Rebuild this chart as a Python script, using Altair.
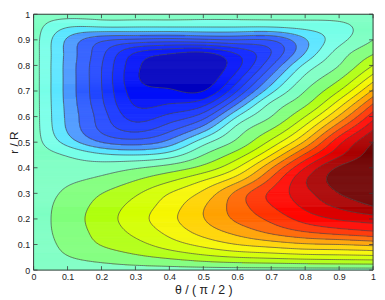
import numpy as np
import pandas as pd
import altair as alt

alt.data_transformers.disable_max_rows()

# ---- values (field at grid nodes) ----
theta_nodes = [0.0, 0.1, 0.2, 0.3, 0.4, 0.5, 0.6, 0.7, 0.8, 0.9, 1.0]
r_nodes = [0.0, 0.05, 0.1, 0.15, 0.2, 0.25, 0.3, 0.35, 0.4, 0.45, 0.5,
           0.55, 0.6, 0.65, 0.7, 0.75, 0.8, 0.85, 0.9, 0.95, 1.0]

# one list per theta column, values from r = 0 (bottom) to r = 1 (top)
psi_t00 = [0, 0, 0, 0, 0, 0, 0, 0, 0, 0, 0, 0, 0, 0, 0, 0, 0, 0, 0, 0, 0]
psi_t01 = [0, 0.45, 0.75, 0.92, 0.98, 0.90, 0.68, 0.32, -0.14, -0.60, -1.90,
           -2.60, -2.72, -2.80, -2.85, -2.85, -2.85, -2.80, -2.65, -1.45, 0]
psi_t02 = [0, 0.85, 1.55, 1.85, 2.00, 1.85, 1.48, 0.80, -0.02, -1.30, -3.50,
           -4.70, -5.00, -5.30, -5.45, -5.50, -5.45, -5.20, -4.25, -1.50, 0]
psi_t03 = [0, 1.26, 2.17, 2.75, 3.05, 2.85, 2.35, 1.50, 0.40, -1.50, -4.00,
           -5.80, -6.90, -7.60, -8.00, -8.30, -8.20, -7.50, -4.70, -1.50, 0]
psi_t04 = [0, 1.67, 3.00, 3.80, 4.20, 4.00, 3.50, 2.36, 0.93, -1.00, -3.10,
           -4.80, -6.20, -7.50, -8.35, -9.10, -9.25, -8.30, -4.90, -1.50, 0]
psi_t05 = [0, 2.14, 3.80, 4.90, 5.45, 5.40, 4.75, 3.50, 1.83, 0.50, -0.90,
           -2.90, -4.90, -6.85, -8.50, -9.20, -9.35, -8.60, -4.70, -1.50, 0]
psi_t06 = [0, 2.50, 4.50, 5.85, 6.70, 7.00, 6.80, 5.20, 3.50, 2.00, 0.75,
           -0.10, -1.50, -3.50, -5.50, -6.90, -7.80, -7.30, -4.50, -1.50, 0]
psi_t07 = [0, 2.70, 4.95, 6.75, 7.75, 8.45, 8.70, 7.80, 6.40, 4.50, 2.80,
           1.50, 0.50, -0.33, -1.80, -3.20, -4.60, -5.50, -4.40, -1.50, 0]
psi_t08 = [0, 2.90, 5.35, 7.50, 8.90, 9.70, 10.15, 10.40, 9.50, 7.70, 5.70,
           4.00, 2.50, 1.30, 0.50, -0.27, -1.25, -2.50, -2.60, -1.20, 0]
psi_t09 = [0, 3.00, 5.50, 8.00, 9.60, 10.70, 11.50, 11.90, 11.65, 10.30, 9.20,
           7.50, 5.65, 4.00, 2.50, 1.35, 0.50, -0.09, -0.85, -0.80, 0]
psi_t10 = [0, 3.10, 5.76, 8.40, 10.00, 11.50, 12.10, 12.40, 12.30, 12.00, 11.50,
           10.45, 9.10, 7.50, 5.70, 4.00, 2.50, 1.35, 0.50, 0.10, 0]

# contour levels and the colour of each band between them
levels = [-8.5, -7.5, -6.5, -5.5, -4.5, -3.5, -2.5, -1.5, -0.5, 0.5, 1.5,
          2.5, 3.5, 4.5, 5.5, 6.5, 7.5, 8.5, 9.5, 10.5, 11.5]
band_colors = ["#0000c0", "#0010f8", "#0a22ff", "#1636ff", "#2248ff", "#2e5cff",
               "#4a98ff", "#5ae6ff", "#78ffe8", "#7effc4", "#80ff7c", "#b0ff10",
               "#d4ff00", "#f6f600", "#ffd400", "#ffa200", "#ff6600", "#ff3400",
               "#ff0800", "#dc0000", "#a80000", "#700000"]

x_ticks = [0, 0.1, 0.2, 0.3, 0.4, 0.5, 0.6, 0.7, 0.8, 0.9, 1]
y_ticks = [0, 0.1, 0.2, 0.3, 0.4, 0.5, 0.6, 0.7, 0.8, 0.9, 1]

# ---- smooth surface through the nodes (cubic spline, as contourf does) ----
def spline_matrix(nodes, out):
    nodes = np.asarray(nodes, float)
    out = np.asarray(out, float)
    n = len(nodes)
    h = np.diff(nodes)
    A = np.zeros((n, n))
    B = np.zeros((n, n))
    A[0, 0] = A[-1, -1] = 1.0
    for i in range(1, n - 1):
        A[i, i - 1] = h[i - 1] / 6
        A[i, i] = (h[i - 1] + h[i]) / 3
        A[i, i + 1] = h[i] / 6
        B[i, i - 1] = 1 / h[i - 1]
        B[i, i] = -1 / h[i - 1] - 1 / h[i]
        B[i, i + 1] = 1 / h[i]
    M = np.linalg.solve(A, B)
    idx = np.clip(np.searchsorted(nodes, out, side="right") - 1, 0, n - 2)
    hh = h[idx]
    t = (out - nodes[idx]) / hh
    S = np.zeros((len(out), n))
    rows = np.arange(len(out))
    S[rows, idx] += 1 - t
    S[rows, idx + 1] += t
    c0 = ((1 - t) ** 3 - (1 - t)) * hh ** 2 / 6
    c1 = (t ** 3 - t) * hh ** 2 / 6
    S += c0[:, None] * M[idx] + c1[:, None] * M[idx + 1]
    return S

G = np.array([psi_t00, psi_t01, psi_t02, psi_t03, psi_t04, psi_t05,
              psi_t06, psi_t07, psi_t08, psi_t09, psi_t10], float).T

def field(th_out, r_out):
    return spline_matrix(r_nodes, r_out) @ G @ spline_matrix(theta_nodes, th_out).T

W, H = 345, 260

# filled bands: run-length rectangles per pixel row
NX, NY = W, H
tc = (np.arange(NX) + 0.5) / NX
rc = (np.arange(NY) + 0.5) / NY
F = field(tc, rc)
lev = np.array(levels)
rows = []
for j in range(NY):
    b = np.digitize(F[j], lev)
    starts = np.r_[0, np.nonzero(np.diff(b))[0] + 1]
    ends = np.r_[starts[1:], NX]
    for s, e in zip(starts, ends):
        rows.append((round(s / NX, 5), round(e / NX, 5), round(j / NY, 5),
                     round((j + 1) / NY, 5), round(float(F[j, s:e].mean()), 3)))
df_fill = pd.DataFrame(rows, columns=["t0", "t1", "r0", "r1", "psi"])

# contour lines: marching squares on a grid of nodes
CX, CY = 174, 131
xs_ = np.linspace(0, 1, CX)
ys_ = np.linspace(0, 1, CY)
V = field(xs_, ys_)

def segments(V, xs, ys, level):
    A = V - level
    pos = A > 0
    out = []
    with np.errstate(divide="ignore", invalid="ignore"):
        he = pos[:, :-1] != pos[:, 1:]
        th = A[:, :-1] / (A[:, :-1] - A[:, 1:])
        hx = xs[:-1][None, :] + th * np.diff(xs)[None, :]
        ve = pos[:-1, :] != pos[1:, :]
        tv = A[:-1, :] / (A[:-1, :] - A[1:, :])
        vy = ys[:-1][:, None] + tv * np.diff(ys)[:, None]
    cells = he[:-1, :].astype(int) + he[1:, :] + ve[:, :-1] + ve[:, 1:]
    js, is_ = np.nonzero(cells)
    for j, i in zip(js, is_):
        pts = []
        if he[j, i]:
            pts.append((hx[j, i], ys[j]))
        if ve[j, i + 1]:
            pts.append((xs[i + 1], vy[j, i + 1]))
        if he[j + 1, i]:
            pts.append((hx[j + 1, i], ys[j + 1]))
        if ve[j, i]:
            pts.append((xs[i], vy[j, i]))
        if len(pts) == 2:
            out.append(pts[0] + pts[1])
        elif len(pts) == 4:
            out.append(pts[0] + pts[1])
            out.append(pts[2] + pts[3])
    return out

segs = []
for L in levels:
    segs.extend(segments(V, xs_, ys_, L))
df_seg = pd.DataFrame(np.round(np.array(segs, float), 5), columns=["x", "y", "x2", "y2"])
df_xt = pd.DataFrame({"t": x_ticks})
df_yt = pd.DataFrame({"t": y_ticks})

# ---- chart ----
frame_col = "#3a3a3a"
xsc = alt.Scale(domain=[0, 1], nice=False, zero=False)
ysc = alt.Scale(domain=[0, 1], nice=False, zero=False)
xaxis = alt.Axis(title="θ / ( π / 2 )", values=x_ticks, format="~g", tickSize=0,
                 domain=False, grid=False, labelPadding=3, titlePadding=2,
                 labelFlush=False, labelOverlap=False)
yaxis = alt.Axis(title="r / R", values=y_ticks, format="~g", tickSize=0,
                 domain=False, grid=False, labelPadding=4,
                 titleX=-20.5, titleY=H / 2, titleAngle=270, titleFontSize=12,
                 titleAlign="center", titleBaseline="middle",
                 labelFlush=False, labelOverlap=False)
cscale = alt.Scale(type="threshold", domain=levels, range=band_colors)

fill = alt.Chart(df_fill).mark_rect(strokeWidth=0.5).encode(
    x=alt.X("t0:Q", scale=xsc, axis=xaxis), x2="t1:Q",
    y=alt.Y("r0:Q", scale=ysc, axis=yaxis), y2="r1:Q",
    color=alt.Color("psi:Q", scale=cscale, legend=None),
    stroke=alt.Stroke("psi:Q", scale=cscale, legend=None),
)

lines = alt.Chart(df_seg).mark_rule(color="#4a4a4a", strokeWidth=0.8, opacity=0.85).encode(
    x=alt.X("x:Q", scale=xsc, axis=xaxis), x2="x2:Q",
    y=alt.Y("y:Q", scale=ysc, axis=yaxis), y2="y2:Q",
)

tick_b = alt.Chart(df_xt).mark_rule(color=frame_col, strokeWidth=0.8).encode(
    x=alt.X("t:Q", scale=xsc, axis=xaxis), y=alt.value(H), y2=alt.value(H - 4))
tick_t = alt.Chart(df_xt).mark_rule(color=frame_col, strokeWidth=0.8).encode(
    x=alt.X("t:Q", scale=xsc, axis=xaxis), y=alt.value(0), y2=alt.value(4))
tick_l = alt.Chart(df_yt).mark_rule(color=frame_col, strokeWidth=0.8).encode(
    y=alt.Y("t:Q", scale=ysc, axis=yaxis), x=alt.value(0), x2=alt.value(4))
tick_r = alt.Chart(df_yt).mark_rule(color=frame_col, strokeWidth=0.8).encode(
    y=alt.Y("t:Q", scale=ysc, axis=yaxis), x=alt.value(W), x2=alt.value(W - 4))

frame = alt.Chart(pd.DataFrame({"a": [0]})).mark_rect(
    filled=False, stroke=frame_col, strokeWidth=1).encode(
    x=alt.value(0), x2=alt.value(W), y=alt.value(0), y2=alt.value(H))

chart = alt.layer(fill, lines, tick_b, tick_t, tick_l, tick_r, frame).properties(
    width=W, height=H,
    autosize=alt.AutoSizeParams(type="none"),
    padding={"left": 26, "top": 4, "right": 4, "bottom": 26},
).configure_view(stroke=None).configure_axis(
    labelFont="Liberation Sans", titleFont="Liberation Sans",
    labelFontSize=9, titleFontSize=12.5, titleFontWeight="normal",
    labelColor="#222222", titleColor="#222222",
)

chart.save("out.html", embed_options={"renderer": "svg", "actions": False})
